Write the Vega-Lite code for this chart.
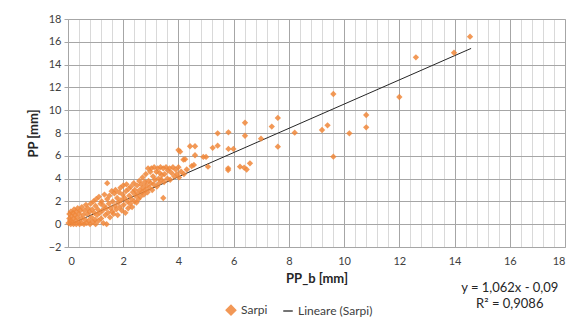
{
  "$schema": "https://vega.github.io/schema/vega-lite/v6.json",
  "autosize": "none",
  "width": 497,
  "height": 228,
  "padding": {"left": 68, "top": 19, "right": 11, "bottom": 78},
  "background": "white",
  "config": {
    "font": "Lato",
    "view": {"stroke": "#c8c8c8", "strokeWidth": 1},
    "axis": {"labelFont": "Lato", "titleFont": "Lato", "labelColor": "#404040", "titleColor": "#262626", "labelFontSize": 11, "labelOverlap": false}
  },
  "datasets": {
    "pts": [
      {"x":0.02,"y":0.1},{"x":0.05,"y":0.5},{"x":0.05,"y":0.9},{"x":0.08,"y":0.3},{"x":0.1,"y":1.1},{"x":0.1,"y":0.0},{"x":0.12,"y":0.7},{"x":0.15,"y":0.2},{"x":0.18,"y":1.0},{"x":0.2,"y":0.5},{"x":0.2,"y":0.0},{"x":0.22,"y":1.3},{"x":0.25,"y":0.8},{"x":0.28,"y":0.3},{"x":0.3,"y":1.1},{"x":0.3,"y":0.0},{"x":0.33,"y":0.6},{"x":0.35,"y":1.4},{"x":0.38,"y":0.2},{"x":0.4,"y":0.9},{"x":0.42,"y":0.0},{"x":0.45,"y":1.2},{"x":0.48,"y":0.5},{"x":0.5,"y":0.1},{"x":0.5,"y":1.5},
      {"x":0.55,"y":0.8},{"x":0.58,"y":0.0},{"x":0.6,"y":1.2},{"x":0.62,"y":0.4},{"x":0.65,"y":1.7},{"x":0.68,"y":0.1},{"x":0.7,"y":0.9},{"x":0.72,"y":1.4},{"x":0.75,"y":0.3},{"x":0.78,"y":1.1},{"x":0.8,"y":0.0},{"x":0.82,"y":1.8},{"x":0.85,"y":0.6},{"x":0.88,"y":1.3},{"x":0.9,"y":0.2},{"x":0.92,"y":2.0},{"x":0.95,"y":1.0},{"x":0.98,"y":0.4},{"x":1.0,"y":1.6},{"x":1.0,"y":0.0},
      {"x":1.02,"y":2.2},{"x":1.05,"y":0.8},{"x":1.08,"y":1.3},{"x":1.1,"y":0.3},{"x":1.12,"y":2.4},{"x":1.15,"y":1.0},{"x":1.18,"y":1.8},{"x":1.2,"y":0.5},{"x":1.22,"y":2.0},{"x":1.25,"y":1.2},{"x":1.28,"y":0.1},{"x":1.3,"y":1.6},{"x":1.32,"y":2.6},{"x":1.35,"y":0.8},{"x":1.38,"y":1.4},{"x":1.42,"y":3.6},{"x":1.4,"y":0.0},{"x":1.42,"y":2.2},{"x":1.45,"y":1.0},{"x":1.48,"y":1.8},
      {"x":1.5,"y":2.5},{"x":1.52,"y":0.6},{"x":1.55,"y":1.4},{"x":1.58,"y":2.9},{"x":1.6,"y":1.1},{"x":1.62,"y":2.0},{"x":1.65,"y":0.9},{"x":1.68,"y":2.7},{"x":1.7,"y":1.6},{"x":1.72,"y":3.0},{"x":1.75,"y":1.3},{"x":1.78,"y":2.3},{"x":1.8,"y":0.8},{"x":1.82,"y":1.9},{"x":1.85,"y":2.8},{"x":1.88,"y":1.5},{"x":1.9,"y":3.2},{"x":1.92,"y":2.1},{"x":1.95,"y":1.2},{"x":1.98,"y":2.6},
      {"x":2.0,"y":3.4},{"x":2.02,"y":1.7},{"x":2.05,"y":2.3},{"x":2.08,"y":1.0},{"x":2.1,"y":2.9},{"x":2.12,"y":3.5},{"x":2.15,"y":2.0},{"x":2.18,"y":1.4},{"x":2.2,"y":3.1},{"x":2.22,"y":2.5},{"x":2.25,"y":1.8},{"x":2.28,"y":3.3},{"x":2.3,"y":2.2},{"x":2.32,"y":1.5},{"x":2.35,"y":2.8},{"x":2.38,"y":3.6},{"x":2.4,"y":2.0},{"x":2.42,"y":3.0},{"x":2.45,"y":2.5},{"x":2.48,"y":1.9},
      {"x":2.5,"y":3.4},{"x":2.52,"y":2.7},{"x":2.55,"y":2.2},{"x":2.58,"y":3.8},{"x":2.6,"y":3.0},{"x":2.62,"y":2.4},{"x":2.65,"y":3.5},{"x":2.68,"y":2.8},{"x":2.7,"y":4.1},{"x":2.72,"y":3.2},{"x":2.75,"y":2.6},{"x":2.78,"y":3.7},{"x":2.8,"y":3.0},{"x":2.82,"y":4.4},{"x":2.85,"y":3.4},{"x":2.88,"y":2.8},{"x":2.9,"y":4.9},{"x":2.92,"y":3.8},{"x":2.95,"y":3.2},{"x":2.98,"y":4.6},
      {"x":3.0,"y":3.6},{"x":3.02,"y":4.9},{"x":3.05,"y":3.0},{"x":3.08,"y":4.2},{"x":3.1,"y":3.5},{"x":3.12,"y":5.0},{"x":3.15,"y":3.9},{"x":3.2,"y":4.6},{"x":3.22,"y":3.3},{"x":3.25,"y":4.9},{"x":3.28,"y":4.0},{"x":3.3,"y":3.6},{"x":3.32,"y":4.5},{"x":3.35,"y":5.0},{"x":3.38,"y":3.9},{"x":3.4,"y":4.3},{"x":3.45,"y":2.3},{"x":3.45,"y":4.9},{"x":3.48,"y":3.7},
      {"x":3.5,"y":4.4},{"x":3.55,"y":5.0},{"x":3.6,"y":4.0},{"x":3.62,"y":4.7},{"x":3.68,"y":4.9},{"x":3.7,"y":3.9},{"x":3.75,"y":4.5},{"x":3.8,"y":5.0},{"x":3.85,"y":4.2},{"x":3.9,"y":4.8},{"x":3.95,"y":4.4},{"x":4.0,"y":5.0},{"x":4.02,"y":4.1},{"x":4.1,"y":4.6},{"x":4.18,"y":5.66},{"x":4.2,"y":4.4},{"x":4.3,"y":4.8},
      {"x":4.0,"y":6.5},{"x":4.06,"y":6.36},{"x":4.24,"y":5.7},{"x":4.42,"y":6.84},{"x":4.6,"y":6.84},{"x":4.6,"y":6.05},{"x":4.48,"y":5.1},{"x":4.56,"y":5.2},{"x":4.9,"y":5.9},{"x":5.07,"y":5.05},{"x":5.0,"y":5.9},{"x":5.8,"y":4.75},{"x":6.23,"y":5.05},{"x":6.47,"y":4.8},
      {"x":5.24,"y":6.7},{"x":5.42,"y":6.89},{"x":5.42,"y":7.97},{"x":5.81,"y":8.06},{"x":5.81,"y":6.6},{"x":5.99,"y":6.6},{"x":6.41,"y":8.9},{"x":6.41,"y":7.76},{"x":6.59,"y":5.34},{"x":6.38,"y":4.96},{"x":5.8,"y":4.9},{"x":6.99,"y":7.5},{"x":7.38,"y":8.56},{"x":7.6,"y":9.32},{"x":7.6,"y":6.8},{"x":8.21,"y":8.03},
      {"x":9.2,"y":8.26},{"x":9.4,"y":8.67},{"x":9.61,"y":11.42},{"x":9.61,"y":5.92},{"x":10.19,"y":7.97},{"x":10.8,"y":9.58},{"x":10.8,"y":8.5},{"x":12.0,"y":11.16},{"x":12.6,"y":14.64},{"x":13.98,"y":15.04},{"x":14.56,"y":16.45}
    ],
    "trend": [{"x":0,"y":-0.09},{"x":14.6,"y":15.42}]
  },
  "resolve": {"axis": {"x": "independent"}},
  "layer": [
    {
      "data": {"name": "trend"},
      "mark": {"type": "line", "color": "#262626", "strokeWidth": 1},
      "encoding": {
        "x": {"field": "x", "type": "quantitative", "scale": {"domain": [0, 18], "nice": false},
          "axis": {"orient": "bottom", "tickCount": 60, "values": [0.4,0.8,1.2,1.6,2.4,2.8,3.2,3.6,4.4,4.8,5.2,5.6,6.4,6.8,7.2,7.6,8.4,8.8,9.2,9.6,10.4,10.8,11.2,11.6,12.4,12.8,13.2,13.6,14.4,14.8,15.2,15.6,16.4,16.8,17.2,17.6], "labels": false, "ticks": false, "domain": false, "grid": true, "gridColor": "#d9d9d9", "gridWidth": 1, "title": null}},
        "y": {"field": "y", "type": "quantitative", "scale": {"domain": [-2, 18], "nice": false}},
        "color": {"datum": "Lineare (Sarpi)", "type": "nominal"}
      }
    },
    {
      "data": {"name": "pts"},
      "mark": {"type": "point", "shape": "diamond", "filled": true, "size": 40, "opacity": 0.85},
      "encoding": {
        "x": {"field": "x", "type": "quantitative",
          "axis": {"orient": "bottom", "tickCount": 20, "values": [0,2,4,6,8,10,12,14,16,18], "grid": true, "gridColor": "#a6a6a6", "domain": false, "ticks": false, "labelPadding": 8, "title": "PP_b [mm]", "titleFontWeight": "bold", "titleFontSize": 13, "titlePadding": 6}},
        "y": {"field": "y", "type": "quantitative",
          "axis": {"tickCount": 20, "values": [-2,0,2,4,6,8,10,12,14,16,18], "grid": true, "gridColor": "#a6a6a6", "domain": false, "tickColor": "#a6a6a6", "tickSize": 4, "labelPadding": 3, "title": "PP [mm]", "titleFontWeight": "bold", "titleFontSize": 13, "titlePadding": 8}},
        "color": {"datum": "Sarpi", "type": "nominal",
          "scale": {"domain": ["Sarpi", "Lineare (Sarpi)"], "range": ["#F0873A", "#262626"]},
          "legend": {"orient": "none", "direction": "horizontal", "legendX": 157, "legendY": 285, "title": null, "labelFontSize": 12, "labelColor": "#404040", "symbolSize": 90, "columnPadding": 12}},
        "shape": {"datum": "Sarpi", "type": "nominal",
          "scale": {"domain": ["Sarpi", "Lineare (Sarpi)"], "range": ["diamond", "stroke"]}}
      }
    },
    {
      "data": {"values": [{}]},
      "mark": {"type": "text", "text": ["y = 1,062x - 0,09", "R\u00b2 = 0,9086"], "font": "Lato", "fontSize": 13, "color": "#262626", "align": "center", "baseline": "top", "lineHeight": 16},
      "encoding": {
        "x": {"datum": 16.0, "type": "quantitative", "axis": null},
        "y": {"datum": -5.1, "type": "quantitative"}
      }
    }
  ]
}
